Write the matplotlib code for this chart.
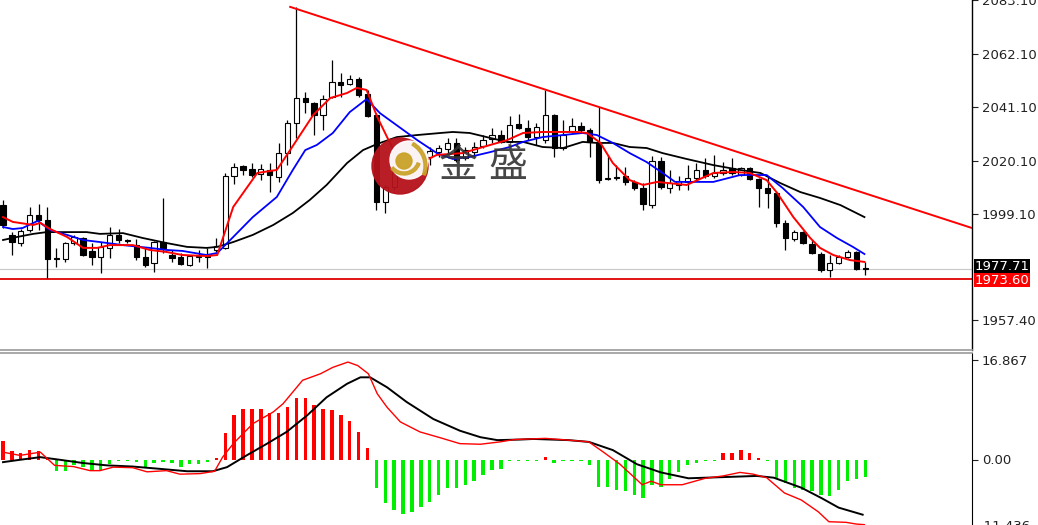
import numpy as np
import matplotlib
matplotlib.use("Agg")
import matplotlib.pyplot as plt
from matplotlib.patches import Circle, Wedge
from matplotlib.transforms import offset_copy

# ---- candle data (bar index 0..97), prices ----
opens = [2002.6, 1990.9, 1987.7, 1992.8, 1998.7, 1996.7, 1981.8, 1981.4, 1987.7, 1989.7,
         1984.6, 1982.2, 1985.8, 1990.9, 1988.9, 1986.9, 1982.2, 1979.9, 1988.1, 1983.0,
         1982.2, 1979.1, 1982.4, 1982.2, 1985.0, 1985.8, 2014.0, 2017.9, 2016.8, 2014.8,
         2016.4, 2013.6, 2023.0, 2034.8, 2044.6, 2042.7, 2038.0, 2045.0, 2050.9, 2050.1,
         2052.1, 2046.2, 2038.0, 2003.8, 2009.7, 2018.3, 2017.2, 2019.5, 2021.5, 2023.4,
         2024.6, 2027.0, 2021.1, 2023.4, 2025.8, 2028.5, 2030.1, 2027.4, 2034.4, 2032.9,
         2029.3, 2028.1, 2038.0, 2025.0, 2031.7, 2033.6, 2032.1, 2027.4, 2013.0, 2013.4,
         2014.0, 2011.7, 2009.3, 2002.6, 2019.9, 2009.3, 2010.5, 2011.7, 2013.2, 2016.4,
         2014.0, 2015.2, 2017.2, 2014.4, 2017.2, 2012.8, 2009.3, 2007.3, 1995.6, 1989.3,
         1992.0, 1987.3, 1983.4, 1977.1, 1979.9, 1982.2, 1984.2, 1977.9]
highs = [2004.6, 1992.0, 1993.2, 2001.9, 2003.0, 2001.9, 1985.8, 1988.1, 1990.9, 1990.1,
         1987.7, 1988.1, 1994.0, 1993.2, 1989.3, 1989.3, 1985.8, 1988.5, 2005.4, 1985.0,
         1983.8, 1982.8, 1985.0, 1985.8, 1989.7, 2015.2, 2019.1, 2018.3, 2019.1, 2018.7,
         2019.1, 2027.0, 2036.0, 2080.3, 2047.0, 2043.1, 2045.8, 2059.5, 2054.4, 2053.7,
         2052.9, 2047.8, 2038.7, 2010.5, 2017.2, 2019.5, 2022.3, 2024.2, 2025.4, 2026.2,
         2028.9, 2028.9, 2025.4, 2027.4, 2030.1, 2032.9, 2032.1, 2037.6, 2038.3, 2036.0,
         2034.8, 2047.8, 2038.3, 2036.0, 2036.8, 2035.2, 2032.9, 2041.1, 2022.3, 2018.3,
         2017.6, 2012.4, 2011.3, 2021.9, 2021.5, 2016.4, 2014.0, 2018.3, 2019.1, 2021.1,
         2022.3, 2019.5, 2021.1, 2017.6, 2017.6, 2013.2, 2013.6, 2007.7, 1996.7, 1992.8,
         1992.4, 1988.9, 1984.2, 1983.0, 1983.0, 1985.0, 1984.6, 1980.3]
lows = [1993.6, 1983.0, 1986.5, 1992.0, 1992.8, 1974.0, 1978.3, 1980.3, 1986.9, 1982.6,
        1979.1, 1975.9, 1981.8, 1987.7, 1987.7, 1981.0, 1978.3, 1976.3, 1983.8, 1980.3,
        1979.1, 1978.7, 1980.3, 1977.9, 1984.2, 1985.4, 2010.9, 2014.4, 2013.6, 2012.4,
        2007.7, 2011.7, 2018.3, 2028.9, 2038.7, 2030.1, 2032.1, 2044.6, 2045.0, 2049.7,
        2045.0, 2037.2, 2000.7, 1999.5, 2008.5, 2013.2, 2015.6, 2016.4, 2018.3, 2021.5,
        2023.0, 2019.5, 2020.3, 2021.5, 2025.0, 2027.0, 2027.0, 2027.0, 2032.5, 2028.1,
        2026.2, 2027.0, 2021.5, 2024.2, 2030.9, 2030.9, 2021.5, 2011.3, 2012.4, 2012.4,
        2010.5, 2008.5, 2000.7, 2001.5, 2008.9, 2007.3, 2008.5, 2008.5, 2012.4, 2013.2,
        2013.2, 2014.4, 2014.4, 2014.0, 2012.4, 2001.9, 2001.5, 1994.0, 1985.0, 1988.5,
        1987.3, 1983.4, 1976.3, 1974.4, 1979.5, 1981.8, 1977.1, 1975.2]
closes = [1994.8, 1988.1, 1992.4, 1998.7, 1996.7, 1981.4, 1981.6, 1987.7, 1990.1, 1983.0,
          1982.2, 1986.2, 1990.9, 1988.9, 1988.7, 1982.2, 1979.1, 1988.1, 1985.8, 1981.8,
          1979.5, 1982.6, 1982.8, 1982.4, 1986.5, 2014.0, 2017.6, 2016.4, 2014.4, 2016.8,
          2014.4, 2023.0, 2034.8, 2044.6, 2043.1, 2038.0, 2044.2, 2050.9, 2049.7, 2052.1,
          2045.8, 2037.6, 2003.8, 2009.7, 2015.6, 2015.6, 2020.3, 2022.3, 2023.8, 2025.0,
          2027.0, 2020.3, 2024.2, 2025.4, 2028.1, 2030.1, 2027.4, 2034.0, 2032.9, 2029.3,
          2033.3, 2038.0, 2025.0, 2030.1, 2033.6, 2032.1, 2027.4, 2012.4, 2013.2, 2013.6,
          2011.7, 2009.3, 2003.0, 2019.9, 2009.7, 2011.3, 2012.1, 2013.2, 2016.4, 2014.0,
          2015.2, 2016.4, 2015.2, 2017.2, 2012.8, 2009.3, 2007.3, 1995.6, 1989.7, 1992.0,
          1987.7, 1983.8, 1977.1, 1979.9, 1982.2, 1984.2, 1977.5, 1977.7]

# ---- moving averages (sampled: bar position, price) ----
ma_red_x = [0, 1.1, 3.4, 4.2, 5.3, 7.2, 9.0, 10.6, 12.0, 14.6, 16.5, 18.4, 20.2, 22.9, 24.1,
            25.9, 28.6, 30.8, 32.3, 34.9, 36.8, 38.7, 39.8, 40.9, 42.1, 43.2, 44.7, 45.8,
            46.9, 48.8, 51.7, 54.0, 56.7, 58.5, 60.7, 64.6, 65.7, 67.2, 68.6, 70.5, 72.0,
            73.6, 76.9, 79.9, 82.1, 84.0, 85.9, 87.1, 88.9, 90.8, 91.9, 93.4, 95.3, 96.9]
ma_red_y = [1997.9, 1996.0, 1994.8, 1995.6, 1993.2, 1990.1, 1985.8, 1985.8, 1986.9, 1986.9,
            1985.0, 1984.2, 1983.0, 1982.6, 1983.0, 2001.9, 2015.2, 2016.4, 2024.2, 2038.0,
            2044.6, 2046.6, 2048.6, 2047.8, 2037.2, 2029.3, 2019.1, 2014.4, 2019.1, 2022.3,
            2023.0, 2025.4, 2028.1, 2030.9, 2031.3, 2031.3, 2030.9, 2027.0, 2019.1, 2012.4,
            2010.5, 2011.7, 2010.5, 2015.2, 2015.6, 2015.2, 2012.4, 2007.3, 1997.9, 1989.7,
            1985.8, 1983.0, 1981.0, 1980.3]
ma_blue_x = [0, 1.1, 2.2, 3.9, 5.3, 7.2, 9.0, 10.9, 13.5, 16.5, 18.4, 20.2, 22.9, 24.1, 25.9,
             28.1, 30.8, 32.6, 34.0, 35.3, 37.1, 39.0, 40.9, 42.4, 44.7, 46.6, 48.8, 50.6,
             52.5, 54.8, 57.0, 58.5, 60.7, 63.0, 65.2, 66.8, 68.6, 70.5, 72.4, 74.2, 75.6,
             79.9, 82.9, 85.9, 87.7, 90.0, 91.9, 93.8, 95.6, 96.9]
ma_blue_y = [1994.0, 1993.2, 1993.6, 1996.4, 1992.8, 1990.9, 1988.9, 1988.1, 1986.9, 1985.8,
             1985.0, 1984.6, 1983.0, 1983.8, 1990.1, 1997.9, 2005.8, 2016.4, 2024.2, 2026.2,
             2030.9, 2039.1, 2044.2, 2038.7, 2032.9, 2028.1, 2023.0, 2020.7, 2021.5, 2023.4,
             2025.4, 2027.4, 2029.3, 2030.1, 2030.9, 2030.1, 2027.0, 2023.0, 2019.5, 2015.2,
             2011.7, 2011.7, 2014.4, 2014.4, 2009.3, 2001.9, 1994.0, 1989.7, 1986.2, 1983.4]
ma_black_x = [0, 1.6, 3.4, 4.9, 7.2, 9.4, 10.9, 13.5, 15.7, 18.4, 20.7, 22.9, 24.1, 25.9,
              28.1, 30.4, 32.6, 34.5, 36.4, 38.7, 40.5, 42.1, 44.3, 46.6, 49.2, 50.6, 52.5,
              54.4, 56.7, 58.5, 60.7, 63.0, 65.2, 66.8, 68.6, 70.5, 72.4, 74.2, 76.9, 79.9,
              82.9, 85.2, 87.4, 89.7, 91.9, 94.2, 96.9]
ma_black_y = [1988.9, 1990.1, 1991.3, 1992.0, 1992.0, 1992.0, 1991.3, 1991.6, 1989.7, 1987.7,
              1986.2, 1985.8, 1986.2, 1988.1, 1990.9, 1994.8, 1999.5, 2004.6, 2010.5, 2019.1,
              2024.2, 2026.6, 2029.3, 2030.1, 2030.9, 2031.3, 2030.9, 2029.3, 2027.4, 2027.4,
              2025.4, 2025.0, 2027.4, 2027.0, 2027.0, 2025.4, 2025.0, 2023.0, 2020.7, 2018.3,
              2016.4, 2015.2, 2011.3, 2007.7, 2005.4, 2002.6, 1997.9]

# trend line and levels
trend_x = [32.3, 109.0]
trend_y = [2080.4, 1993.6]
support_level = 1973.60
bid_level = 1977.71
price_ticks = [2083.10, 2062.10, 2041.10, 2020.10, 1999.10, 1957.40]

# ---- MACD panel ----
hist = [3.2, 1.5, 1.1, 1.6, 1.5, 0.1, -1.9, -1.9, -1.0, -1.3,
        -1.9, -1.8, -0.7, -0.3, -0.3, -0.5, -1.3, -0.6, -0.5, -0.6,
        -1.3, -0.8, -0.7, -0.4, 0.2, 4.5, 7.5, 8.6, 8.6, 8.6,
        8.0, 8.0, 9.0, 10.4, 10.4, 9.2, 8.6, 8.4, 7.5, 6.6,
        4.6, 1.9, -4.9, -7.4, -8.6, -9.3, -9.0, -8.1, -7.3, -6.1,
        -4.9, -4.9, -4.4, -3.6, -2.7, -1.8, -1.6, -0.3, -0.3, -0.3,
        -0.3, 0.5, -0.6, -0.3, -0.3, -0.3, -0.9, -4.7, -4.7, -5.2,
        -5.4, -6.0, -6.6, -4.3, -4.7, -3.4, -2.1, -1.0, -0.6, -0.2,
        -0.2, 1.1, 1.1, 1.7, 1.1, 0.3, -0.3, -3.4, -4.0, -4.9,
        -5.2, -5.4, -6.0, -6.3, -5.2, -3.7, -3.4, -2.9]
macd_x = [0, 1.9, 4.2, 5.8, 7.9, 9.8, 10.9, 12.4, 14.6, 16.2, 18.4, 19.9, 22.2, 23.8, 24.7,
          25.9, 28.1, 30.4, 31.5, 33.7, 35.7, 37.1, 38.8, 39.9, 41.1, 42.1, 43.2, 44.7, 46.9,
          49.2, 51.4, 53.7, 55.9, 57.5, 61.0, 63.6, 65.9, 67.5, 69.4, 71.9, 72.9, 74.0, 76.4,
          79.0, 81.0, 82.9, 84.4, 85.9, 87.9, 89.8, 91.7, 92.9, 94.8, 96.0, 96.9]
macd_y = [1.25, 0.7, 1.25, -1.0, -1.2, -1.9, -1.9, -1.3, -1.4, -2.1, -1.9, -2.5, -2.4, -2.0, 0.4,
          2.7, 6.1, 8.1, 9.5, 13.5, 14.6, 15.7, 16.6, 16.0, 14.6, 11.2, 8.9, 6.4, 4.7,
          3.7, 2.7, 2.6, 3.0, 3.4, 3.6, 3.3, 3.0, 1.3, -0.8, -4.3, -3.7, -4.3, -4.3,
          -3.2, -2.8, -2.2, -2.5, -3.1, -5.7, -6.9, -8.9, -10.6, -10.7, -11.0, -11.1]
signal_x = [0, 1.9, 4.2, 6.4, 9.0, 11.7, 14.6, 17.7, 20.7, 23.6, 25.2, 27.4, 29.7, 31.9, 34.2,
            36.4, 38.7, 40.2, 41.3, 43.2, 45.4, 48.4, 51.4, 53.7, 55.6, 58.2, 59.7, 63.6, 65.9,
            68.6, 71.3, 74.0, 77.1, 81.0, 84.8, 86.7, 89.8, 92.1, 94.0, 96.7]
signal_y = [-0.45, -0.05, 0.4, -0.05, -0.6, -1.0, -1.2, -1.6, -2.0, -2.0, -1.3, 0.7, 2.7, 4.7, 7.5,
            10.6, 12.9, 14.0, 14.0, 12.3, 9.8, 6.9, 4.9, 3.8, 3.3, 3.4, 3.5, 3.3, 3.0,
            1.6, -0.8, -2.2, -3.2, -3.0, -2.8, -3.1, -4.8, -6.6, -8.2, -9.4]
macd_ticks = [16.867, 0.0]
macd_min_label = -11.436

W, H = 1038, 525
fig = plt.figure(figsize=(W / 100, H / 100), dpi=100)
fig.patch.set_facecolor("white")

ax = fig.add_axes([0, 175 / H, 972 / W, 350 / H])
axm = fig.add_axes([0, 0, 972 / W, 172 / H])

xlim = (-0.34, 109.0)
n = len(closes)
idx = np.arange(n)

# candles
o = np.array(opens); c = np.array(closes)
ax.vlines(idx, lows, highs, color="black", lw=0.9, zorder=2)
bottoms = np.minimum(o, c)
heights = np.maximum(np.abs(c - o), 0.25)
faces = ["white" if cc >= oo else "black" for oo, cc in zip(o, c)]
ax.bar(idx, heights, bottom=bottoms, width=0.6, color=faces, edgecolor="black",
       linewidth=0.8, zorder=3)

ax.plot(ma_black_x, ma_black_y, color="black", lw=1.3, zorder=4)
ax.plot(ma_blue_x, ma_blue_y, color="#0000ff", lw=1.3, zorder=5)
ax.plot(ma_red_x, ma_red_y, color="#ff0000", lw=1.4, zorder=6)
ax.plot(trend_x, trend_y, color="#ff0000", lw=1.4, zorder=6)
ax.axhline(bid_level, color="#c8c8c8", lw=0.8, zorder=1)
ax.axhline(support_level, color="#e00000", lw=1.3, zorder=1)

ax.set_xlim(*xlim)
ax.set_ylim(2083.1 - 0.3925 * 350, 2083.1)
ax.yaxis.tick_right()
ax.set_yticks(price_ticks)
ax.set_yticklabels([f"{v:.2f}" for v in price_ticks])
ax.set_xticks([])
ax.tick_params(axis="y", length=4, width=0.8, pad=3, labelsize=9.5, colors="#222222")
for s in ["top", "left"]:
    ax.spines[s].set_visible(False)
ax.spines["bottom"].set_color("#9a9a9a")
ax.spines["bottom"].set_linewidth(1.2)
ax.spines["right"].set_color("black")
ax.spines["right"].set_linewidth(1.0)

ytr = ax.get_yaxis_transform()
ax.text(1.003, bid_level, f"{bid_level:.2f}",
        transform=offset_copy(ytr, fig=fig, y=1.5, units="points"),
        va="center", ha="left", fontsize=9.5, color="white", clip_on=False,
        bbox=dict(facecolor="black", edgecolor="none", pad=0.4))
ax.text(1.003, support_level, f"{support_level:.2f}",
        transform=offset_copy(ytr, fig=fig, y=-0.8, units="points"),
        va="center", ha="left", fontsize=9.5, color="white", clip_on=False,
        bbox=dict(facecolor="#ff0000", edgecolor="none", pad=0.4))

# MACD
hcol = ["#ff0000" if v > 0 else "#00ee00" for v in hist]
axm.bar(idx, hist, width=0.38, color=hcol, zorder=2)
axm.plot(signal_x, signal_y, color="black", lw=1.4, zorder=3)
axm.plot(macd_x, macd_y, color="#ff0000", lw=1.0, zorder=4)
axm.set_xlim(*xlim)
axm.set_ylim(-(65.5 / 5.87), 106.5 / 5.87)
axm.yaxis.tick_right()
axm.set_yticks(macd_ticks)
axm.set_yticklabels(["16.867", "0.00"])
axm.set_xticks([])
axm.tick_params(axis="y", length=4, width=0.8, pad=3, labelsize=9.5, colors="#222222")
axm.text(1.008, macd_min_label, f"{macd_min_label:.3f}", transform=axm.get_yaxis_transform(),
         va="center", ha="left", fontsize=9.5, color="#222222", clip_on=False)
for s in ["bottom", "left"]:
    axm.spines[s].set_visible(False)
axm.spines["top"].set_color("#9a9a9a")
axm.spines["top"].set_linewidth(1.2)
axm.spines["right"].set_color("black")

# watermark logo
lg = fig.add_axes([0, 0, 1, 1], zorder=10)
lg.set_xlim(0, W); lg.set_ylim(H, 0); lg.axis("off")
lg.patch.set_alpha(0)
lg.add_patch(Circle((400, 166), 28, color="#b5121b", alpha=0.95))
lg.add_patch(Circle((409, 160), 19, color="white", alpha=0.95))
lg.add_patch(Wedge((400, 166), 27, 300, 20, width=3, color="#c9a227", alpha=0.9))
lg.add_patch(Wedge((404, 158), 17, 20, 140, width=3, color="#c9a227", alpha=0.9))
lg.add_patch(Circle((404, 161), 8, color="#c9a227", alpha=0.95))
for ch, cx in [("金", 458), ("盛", 508)]:
    lg.text(cx, 166, ch, ha="center", va="center", fontsize=28, color="#333333",
            alpha=0.9, family=["Noto Sans CJK SC", "DejaVu Sans"])

fig.savefig("out.png", dpi=100)
